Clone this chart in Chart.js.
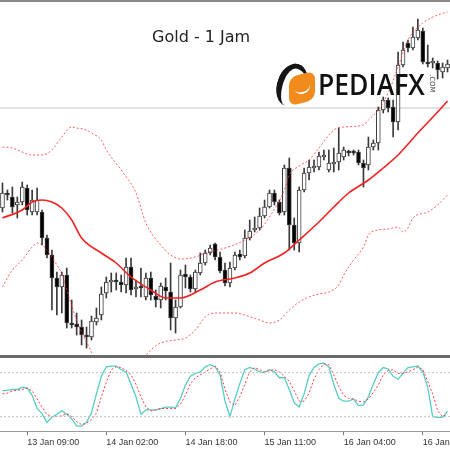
<!DOCTYPE html>
<html>
<head>
<meta charset="utf-8">
<script src="https://cdn.jsdelivr.net/npm/chart.js@4.4.1/dist/chart.umd.min.js"></script>
<style>
  html, body { margin: 0; padding: 0; background: #fff; width: 450px; height: 450px; overflow: hidden; }
  #wrap { position: relative; width: 450px; height: 450px; }
  #price { position: absolute; left: 0; top: 0; }
  #stoch { position: absolute; left: 0; top: 358px; }
  .frameTop { position: absolute; left: 0; top: 0; width: 450px; height: 2px; background: #888; }
  .sep { position: absolute; left: 0; top: 355px; width: 450px; height: 3px; background: #6a6a6a; }
  #title { position: absolute; left: 152px; top: 29px; font: 16px "DejaVu Sans"; line-height: 1; color: #222; white-space: nowrap; }
  .swoosh { position: absolute; left: 277px; top: 63px; width: 30px; height: 44px; border-left: 6px solid #151515; border-top: 5px solid #151515; border-radius: 50%; transform: rotate(18deg); box-sizing: border-box; }
  .badge { position: absolute; left: 289px; top: 74px; width: 26px; height: 29px; background: #f28b1e; border-radius: 8px; transform: skewY(-14deg); }
  .swirl { position: absolute; left: 294px; top: 80px; width: 16px; height: 12px; border-bottom: 2px solid #fff; border-radius: 50%; transform: rotate(-20deg); }
  #brand { position: absolute; left: 318px; top: 69px; font: 600 29px "Open Sans"; line-height: 1; color: #111; transform-origin: 0 0; white-space: nowrap; }
  #dotcom { position: absolute; left: 428px; top: 74px; font: 7px "DejaVu Sans"; color: #333; writing-mode: vertical-rl; }
</style>
</head>
<body>
<div id="wrap">
  <canvas id="price" width="450" height="355"></canvas>
  <canvas id="stoch" width="450" height="92"></canvas>
  <div class="frameTop"></div>
  <div class="sep"></div>
  <div id="title">Gold - 1 Jam</div>
  <div class="swoosh"></div>
  <div class="badge"></div>
  <div class="swirl"></div>
  <span id="brand">PEDIAFX</span>
  <span id="dotcom">.COM</span>
</div>
<script>
// hourly candles, Gold
const open = [1544.2,1545.7,1545.3,1544.5,1544.8,1546.2,1543.8,1543.8,1543.8,1541.2,
  1539.5,1537.2,1536.3,1537.5,1532.7,1532.6,1532.3,1531.4,1531.3,1532.8,
  1533.5,1535.7,1536.8,1537.0,1536.8,1536.5,1538.3,1536.1,1536.4,1535.3,
  1537.2,1535.4,1535.0,1536.3,1535.8,1533.2,1534.3,1537.6,1537.3,1536.1,
  1537.7,1538.7,1539.7,1540.6,1539.3,1538.0,1536.7,1538.2,1539.6,1539.4,
  1541.2,1542.0,1542.2,1543.4,1544.3,1545.7,1544.8,1543.8,1548.2,1542.5,
  1540.7,1546.0,1547.7,1548.2,1548.3,1549.3,1548.0,1548.6,1548.8,1549.3,
  1549.8,1549.8,1549.8,1548.7,1548.5,1550.3,1550.7,1554.0,1555.0,1554.3,
  1552.8,1558.5,1560.7,1560.2,1561.2,1561.9,1558.8,1558.7,1558.7,1557.8,
  1558.2];
const high = [1546.7,1546.0,1546.3,1545.3,1546.8,1546.5,1546.0,1546.2,1544.0,1541.5,
  1540.0,1537.8,1537.8,1538.2,1535.0,1533.7,1533.0,1532.3,1533.4,1534.2,
  1536.3,1537.3,1537.7,1537.7,1537.5,1539.2,1539.2,1537.0,1538.2,1537.7,
  1537.8,1536.0,1536.7,1537.2,1538.7,1535.0,1538.0,1538.5,1537.5,1538.0,
  1539.7,1540.0,1540.5,1540.7,1539.8,1538.7,1538.8,1539.8,1540.0,1542.0,
  1543.0,1543.3,1544.2,1545.0,1546.0,1546.0,1545.0,1548.5,1549.2,1543.2,
  1546.3,1548.2,1549.0,1549.0,1549.8,1550.0,1550.0,1550.2,1552.2,1550.3,
  1550.0,1550.0,1550.0,1549.0,1551.3,1551.0,1554.3,1555.3,1555.2,1555.0,
  1559.8,1560.8,1561.0,1562.3,1563.1,1562.2,1560.5,1559.2,1558.9,1558.7,
  1559.0];
const low = [1543.8,1545.0,1543.7,1543.2,1544.5,1543.5,1543.5,1543.5,1540.5,1539.2,
  1534.0,1533.5,1533.7,1532.2,1532.2,1531.5,1530.5,1530.2,1531.0,1532.5,
  1533.0,1535.2,1535.8,1536.0,1535.8,1535.7,1535.5,1535.3,1535.3,1535.0,
  1535.0,1534.3,1534.2,1535.0,1532.0,1531.7,1534.2,1536.2,1535.8,1535.8,
  1537.5,1538.5,1539.5,1539.0,1537.7,1536.4,1536.3,1538.0,1539.0,1539.2,
  1541.0,1541.8,1542.0,1543.2,1544.2,1544.5,1543.5,1543.5,1540.0,1540.0,
  1539.8,1545.8,1547.0,1547.8,1548.0,1549.0,1547.8,1547.8,1548.0,1549.0,
  1549.4,1549.5,1548.5,1546.3,1548.0,1550.0,1550.0,1553.7,1553.8,1551.3,
  1552.0,1558.3,1559.8,1560.0,1561.0,1558.6,1558.3,1558.2,1557.1,1557.2,
  1557.8];
const close = [1545.7,1545.5,1544.3,1544.8,1546.3,1544.0,1545.0,1545.0,1541.2,1539.5,
  1537.2,1536.3,1537.5,1532.7,1532.5,1532.3,1531.5,1531.3,1532.9,1533.2,
  1535.6,1536.8,1537.0,1536.8,1536.5,1538.3,1536.0,1536.3,1536.2,1537.2,
  1535.5,1535.0,1536.4,1535.9,1533.2,1534.3,1537.5,1537.3,1536.1,1537.8,
  1538.7,1539.7,1540.2,1539.3,1537.9,1536.7,1538.2,1539.5,1539.3,1541.2,
  1541.9,1542.2,1543.4,1544.3,1545.7,1544.8,1543.7,1548.2,1542.5,1540.7,
  1546.0,1547.7,1548.3,1548.3,1549.4,1549.5,1548.7,1548.8,1549.7,1550.0,
  1549.7,1549.7,1548.7,1548.2,1550.3,1550.7,1554.0,1555.0,1554.2,1552.8,
  1558.5,1560.0,1560.2,1561.3,1562.0,1558.8,1558.6,1558.9,1558.0,1558.3,
  1558.6];

// Bollinger bands, read at some bars
const midBars = [0,4,6,8,10,12,14,16,20,23,26,30,33,36,40,43,47,50,53,57,60,64,67,70,74,77,80,84,88,90];
const midVals = [1543.2,1544.0,1544.8,1545.0,1544.8,1544.2,1543.0,1541.2,1539.7,1538.7,1537.3,1536.0,1535.2,1535.2,1536.0,1536.8,1537.2,1537.7,1538.7,1539.7,1541.0,1542.8,1544.3,1545.7,1547.0,1548.2,1549.5,1551.7,1553.8,1554.9];
const upBars = [0,2,3,6,8,10,12,14,15,17,18,20,21,24,27,29,32,34,36,39,41,45,49,52,54,57,58,60,62,64,67,69,73,74,76,78,80,82,85,88,90];
const upVals = [1550.3,1550.2,1550.0,1549.5,1549.5,1550.0,1551.3,1552.3,1552.2,1552.0,1551.7,1551.0,1550.0,1548.0,1545.7,1542.7,1540.5,1539.5,1539.1,1539.3,1539.7,1540.2,1541.0,1542.0,1543.3,1546.0,1547.5,1548.4,1549.0,1550.2,1552.0,1552.3,1552.5,1553.0,1554.0,1555.7,1558.3,1561.0,1562.7,1563.5,1563.8];
const lowBars = [0,2,4,6,7,8,10,11,12,13,14,15,16,17,20,23,26,30,32,35,37,39,41,43,47,49,52,54,56,58,60,62,64,66,68,69,71,73,74,76,78,80,81,82,83,86,88,90];
const lowVals = [1536.3,1538.0,1539.0,1540.3,1540.7,1540.5,1539.3,1538.5,1537.6,1536.0,1534.4,1533.0,1531.8,1530.8,1528.0,1527.0,1527.8,1530.0,1530.7,1531.0,1531.2,1532.0,1533.3,1533.7,1533.7,1533.5,1533.0,1532.7,1533.0,1534.0,1534.8,1535.3,1535.6,1535.8,1536.5,1537.5,1539.0,1540.3,1541.5,1542.0,1542.1,1542.3,1541.8,1542.2,1543.2,1543.8,1544.5,1545.5];
const hLevel = 1554.2;

// Stochastic
const stochMain = [55,56,57,57,60,59,49,31,24,12,
  19,23,28,23,17,7,7,12,25,51,
  75,88,89,89,84,81,64,47,23,29,
  29,29,31,33,33,32,45,63,75,79,
  81,88,91,88,77,41,20,44,65,84,
  87,85,81,80,84,81,73,73,57,39,
  33,51,76,87,92,93,88,64,45,41,
  41,44,35,36,47,64,80,87,85,75,
  71,79,87,88,89,81,60,20,19,19,
  27];
const stochSignal = [51,52,55,56,57,59,55,44,33,23,
  20,20,21,24,20,13,9,11,16,25,
  47,67,84,88,87,83,77,64,47,33,
  28,29,31,31,31,31,37,49,65,73,
  77,81,85,89,81,57,40,35,47,64,
  81,87,84,81,83,84,81,75,68,55,
  41,41,52,71,84,92,91,77,61,49,
  45,44,41,40,44,53,63,77,83,84,
  79,79,81,84,88,84,68,51,28,20,
  23];
const levels = [80, 20];

const tickBars = [5, 21, 37, 53, 69, 85];
const tickLabels = ['13 Jan 09:00', '14 Jan 02:00', '14 Jan 18:00', '15 Jan 11:00', '16 Jan 04:00', '16 Jan 20:00'];

const xMin = -0.5, xMax = 90.5;
const idx = open.map((v, i) => i);
const pts = (bars, vals) => bars.map((b, k) => ({ x: b, y: vals[k] }));
const bodyColor = open.map((o, i) => close[i] >= o ? '#ffffff' : '#000000');

const common = {
  responsive: false,
  animation: false,
  events: [],
  layout: { padding: 0 },
  plugins: { legend: { display: false }, tooltip: { enabled: false } }
};

new Chart(document.getElementById('price'), {
  type: 'bar',
  data: {
    datasets: [
      { type: 'line', data: [{ x: xMin, y: hLevel }, { x: xMax, y: hLevel }], borderColor: '#e2e2e2', borderWidth: 2, pointRadius: 0, order: 6 },
      { type: 'bar', data: idx.map(i => ({ x: i, y: [low[i], high[i]] })), backgroundColor: '#3a3a3a', barThickness: 1, grouped: false, order: 5 },
      { type: 'bar', data: idx.map(i => ({ x: i, y: [open[i], close[i]] })), backgroundColor: bodyColor, borderColor: '#3a3a3a',
        borderWidth: 1, borderSkipped: false, barThickness: 4, minBarLength: 2, grouped: false, order: 4 },
      { type: 'line', data: pts(upBars, upVals), borderColor: 'rgba(255,40,40,0.75)', borderWidth: 1, borderDash: [2, 2],
        pointRadius: 0, cubicInterpolationMode: 'monotone', order: 2 },
      { type: 'line', data: pts(lowBars, lowVals), borderColor: 'rgba(255,40,40,0.75)', borderWidth: 1, borderDash: [2, 2],
        pointRadius: 0, cubicInterpolationMode: 'monotone', order: 2 },
      { type: 'line', data: pts(midBars, midVals), borderColor: '#f22020', borderWidth: 1.6,
        pointRadius: 0, cubicInterpolationMode: 'monotone', order: 1 }
    ]
  },
  options: {
    ...common,
    scales: {
      x: { type: 'linear', min: xMin, max: xMax, offset: false, display: false },
      y: { min: 1529.5, max: 1565, display: false }
    }
  }
});

new Chart(document.getElementById('stoch'), {
  type: 'line',
  data: {
    datasets: [
      ...levels.map(l => ({ data: [{ x: xMin, y: l }, { x: xMax, y: l }], borderColor: '#c4c4c4', borderWidth: 1, borderDash: [2, 2], pointRadius: 0 })),
      { data: idx.map(i => ({ x: i, y: stochSignal[i] })), borderColor: '#ff3b3b', borderWidth: 1, borderDash: [2, 2], pointRadius: 0 },
      { data: idx.map(i => ({ x: i, y: stochMain[i] })), borderColor: '#55cec6', borderWidth: 1.3, pointRadius: 0 }
    ]
  },
  options: {
    ...common,
    scales: {
      x: {
        type: 'linear', min: xMin, max: xMax, offset: false,
        afterBuildTicks: s => { s.ticks = tickBars.map(v => ({ value: v })); },
        afterFit: s => { s.paddingLeft = 0; s.paddingRight = 0; },
        ticks: {
          autoSkip: false, maxRotation: 0, align: 'start', padding: 2, color: '#333',
          font: { family: 'Liberation Sans', size: 9 },
          callback: v => tickLabels[tickBars.indexOf(v)]
        },
        grid: { drawOnChartArea: false, drawTicks: true, tickLength: 4, color: '#777' },
        border: { display: true, color: '#9a9a9a' }
      },
      y: { min: 0, max: 100, display: false }
    }
  }
});

// fit the brand text to its width in the picture
const brand = document.getElementById('brand');
brand.style.transform = 'scaleX(' + (107 / brand.offsetWidth) + ')';
</script>
</body>
</html>
